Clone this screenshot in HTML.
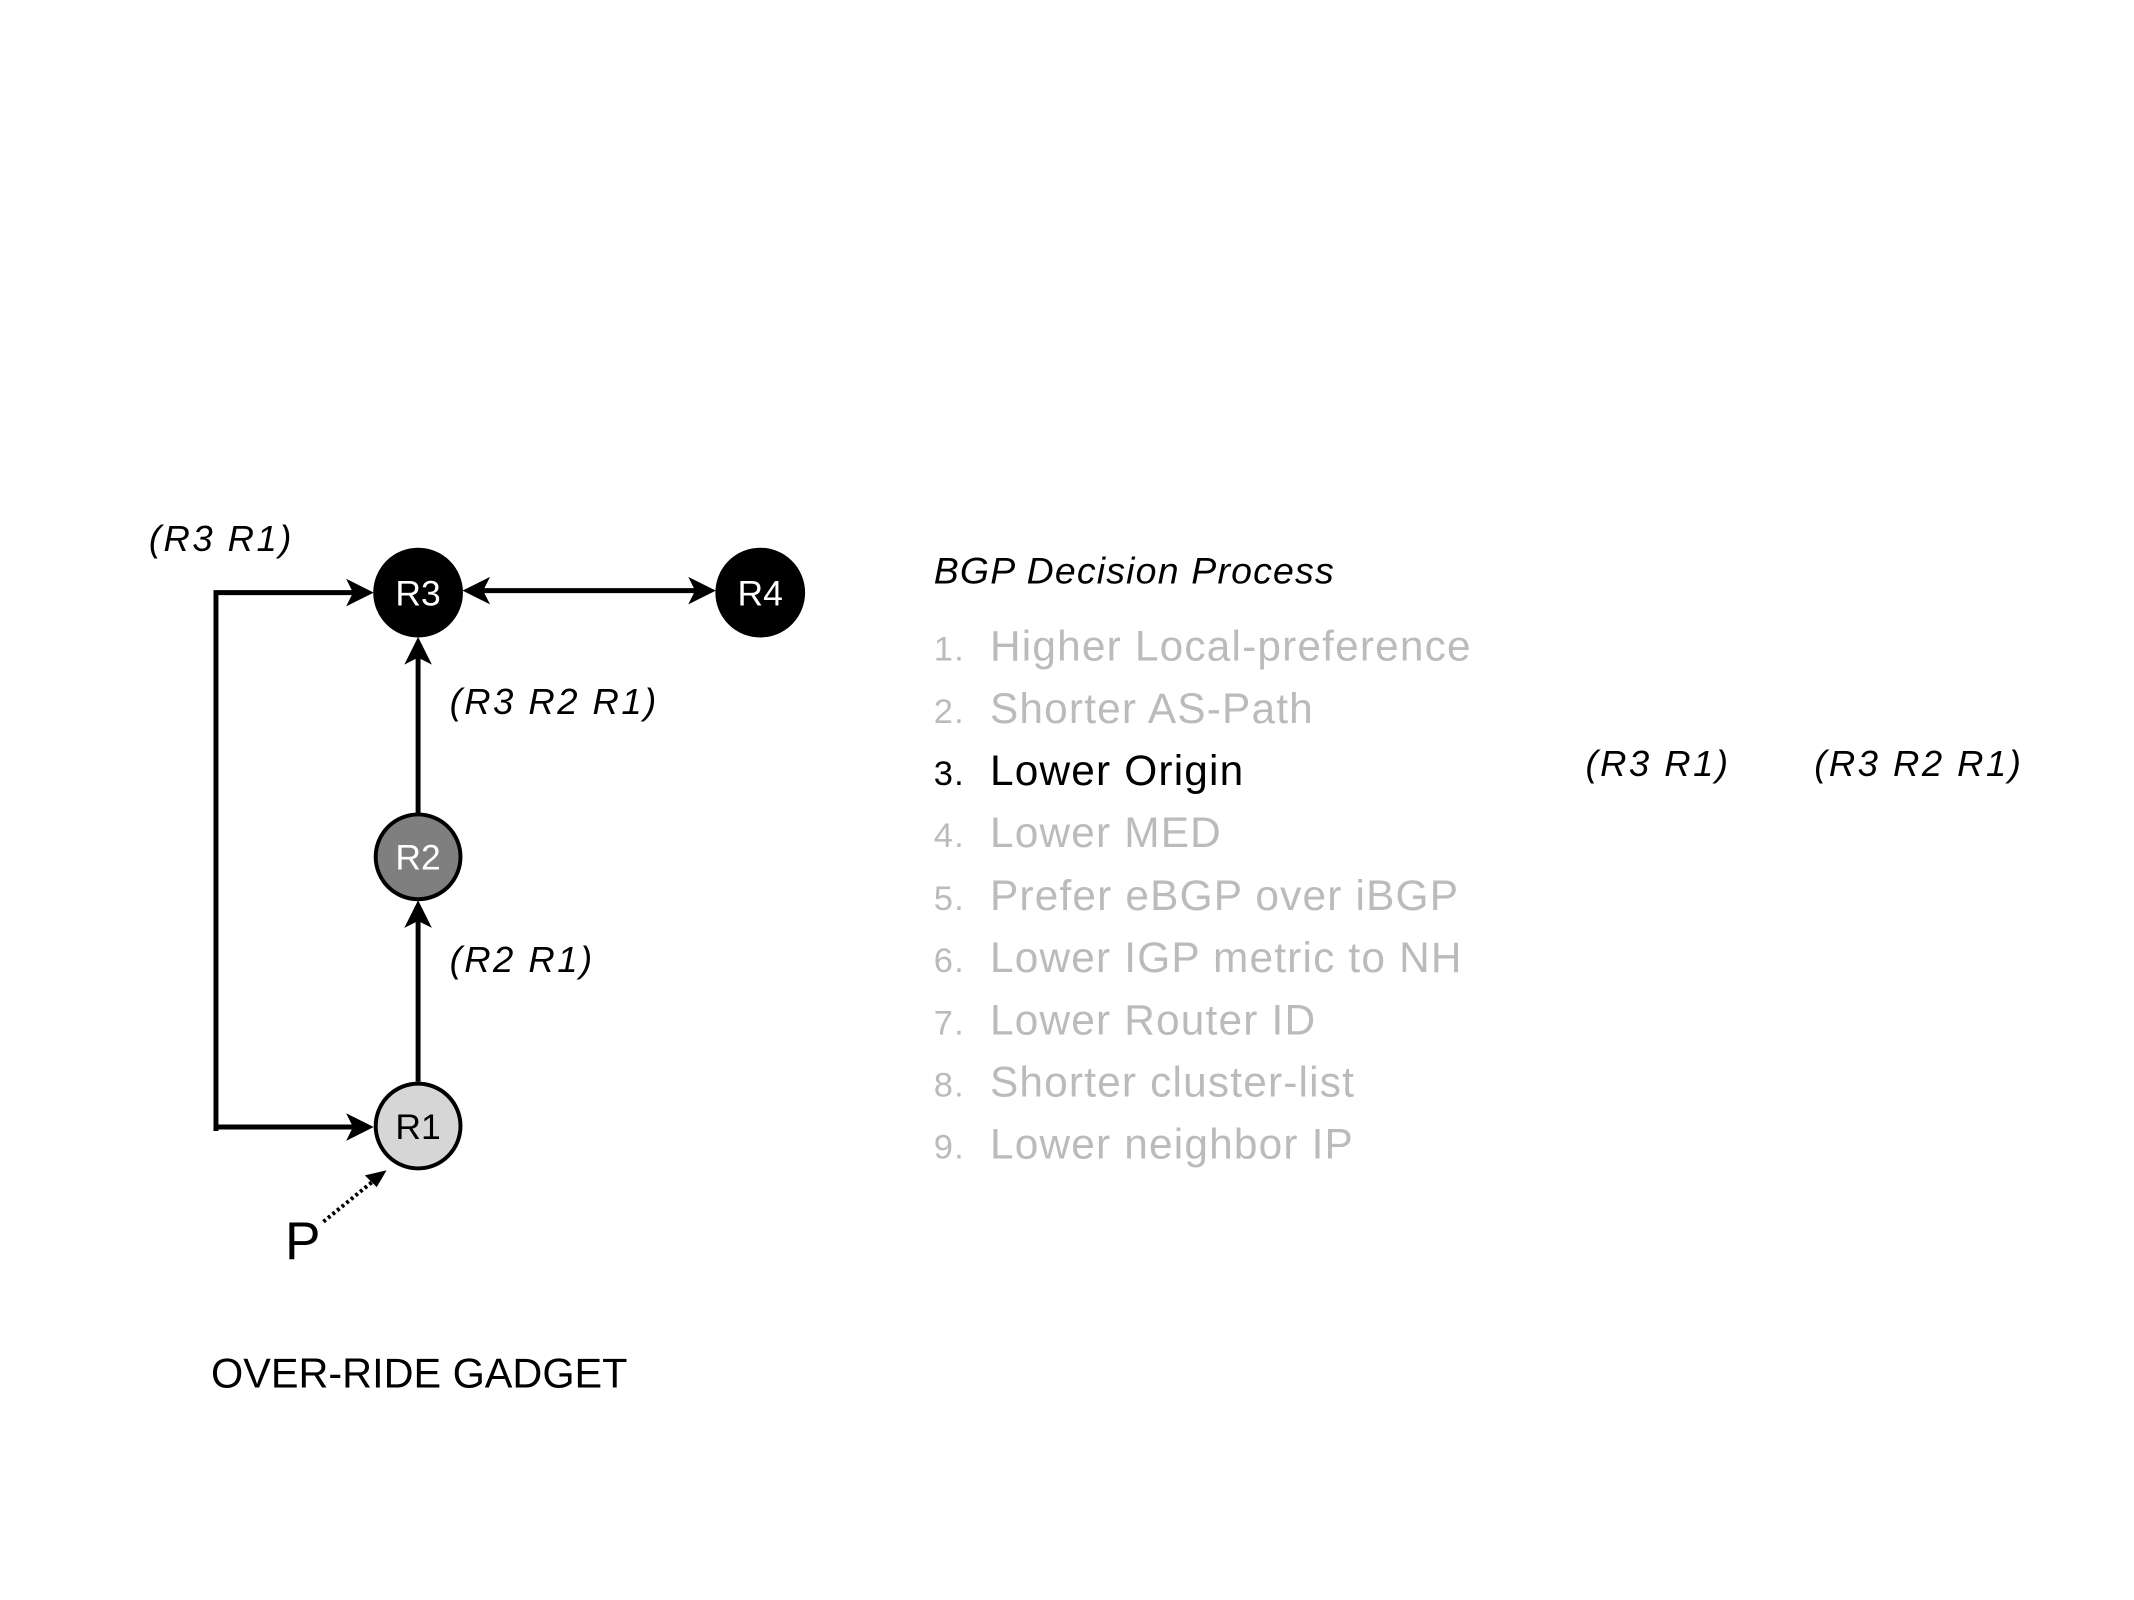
<!DOCTYPE html>
<html><head><meta charset="utf-8"><style>
html,body{margin:0;padding:0;background:#fff;}
svg{display:block;}
text{font-family:"Liberation Sans",sans-serif;}
</style></head><body>
<svg width="2134" height="1600" viewBox="0 0 2134 1600" xmlns="http://www.w3.org/2000/svg">
<g transform="translate(2,1) scale(0.986)">
<g stroke="#000" stroke-width="5" fill="none">
<polyline points="217,1146 217,600 360,600"/>
<line x1="217" y1="1142" x2="360" y2="1142"/>
<line x1="422" y1="824" x2="422" y2="660"/>
<line x1="422" y1="1096" x2="422" y2="925"/>
<line x1="484" y1="598" x2="706" y2="598"/>
</g>
<g fill="#000">
<polygon points="377,600 349,586 356,600 349,614"/>
<polygon points="377,1142 349,1128 356,1142 349,1156"/>
<polygon points="422,645 408,673 422,666 436,673"/>
<polygon points="422,912 408,940 422,933 436,940"/>
<polygon points="467,598 495,584 488,598 495,612"/>
<polygon points="724,598 696,584 703,598 696,612"/>
</g>
<line x1="326" y1="1238" x2="380" y2="1194" stroke="#000" stroke-width="4" stroke-dasharray="3,3"/>
<polygon points="390,1186 368,1191 380,1203" fill="#000"/>
<circle cx="422" cy="600" r="44" fill="#000" stroke="#000" stroke-width="3"/>
<circle cx="769" cy="600" r="44" fill="#000" stroke="#000" stroke-width="3"/>
<circle cx="422" cy="868" r="43" fill="#7f7f7f" stroke="#000" stroke-width="4"/>
<circle cx="422" cy="1141" r="43" fill="#d6d6d6" stroke="#000" stroke-width="4"/>
<g font-size="36" text-anchor="middle">
<text x="422" y="613" fill="#fff">R3</text>
<text x="769" y="613" fill="#fff">R4</text>
<text x="422" y="881" fill="#fff">R2</text>
<text x="422" y="1154" fill="#000">R1</text>
</g>
<g font-size="37" font-style="italic" fill="#000" letter-spacing="2.5">
<text x="149" y="558">(R3 R1)</text>
<text x="454" y="723">(R3 R2 R1)</text>
<text x="454" y="985">(R2 R1)</text>
<text x="1606" y="786">(R3 R1)</text>
<text x="1838" y="786">(R3 R2 R1)</text>
<text x="945" y="591" font-size="38" letter-spacing="1.2">BGP Decision Process</text>
</g>
<text x="287" y="1276" font-size="54">P</text>
<text x="212" y="1406" font-size="42">OVER-RIDE GADGET</text>
<g font-size="43" fill="#bbbbbb" letter-spacing="1.2">
<text x="945" y="669" font-size="35">1.</text><text x="1002" y="669">Higher Local-preference</text>
<text x="945" y="732" font-size="35">2.</text><text x="1002" y="732">Shorter AS-Path</text>
<text x="945" y="795" font-size="35" fill="#000">3.</text><text x="1002" y="795" fill="#000">Lower Origin</text>
<text x="945" y="858" font-size="35">4.</text><text x="1002" y="858">Lower MED</text>
<text x="945" y="922" font-size="35">5.</text><text x="1002" y="922">Prefer eBGP over iBGP</text>
<text x="945" y="985" font-size="35">6.</text><text x="1002" y="985">Lower IGP metric to NH</text>
<text x="945" y="1048" font-size="35">7.</text><text x="1002" y="1048">Lower Router ID</text>
<text x="945" y="1111" font-size="35">8.</text><text x="1002" y="1111">Shorter cluster-list</text>
<text x="945" y="1174" font-size="35">9.</text><text x="1002" y="1174">Lower neighbor IP</text>
</g>
</g>
</svg>
</body></html>
